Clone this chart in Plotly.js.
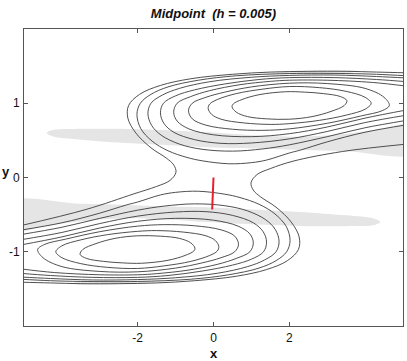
<!DOCTYPE html>
<html>
<head>
<meta charset="utf-8">
<script src="https://cdn.plot.ly/plotly-3.0.1.min.js"></script>
<style>
html, body { margin: 0; padding: 0; background: #fff; }
#graph { width: 407px; height: 361px; }
</style>
</head>
<body>
<div id="graph"></div>
<script>
// ticks
var xTickVals = [-2, 0, 2], xTickText = ["-2", "0", "2"];
var yTickVals = [-1, 0, 1], yTickText = ["-1", "0", "1"];

// outer level curve, upper branch (right edge -> round the upper well -> neck -> left edge)
var Bx = [5.1, 4.3, 3.5, 2.5, 1.5, 0.5, -0.6, -1.4, -1.95, -2.24, -2.26, -2.05, -1.65, -1.24, -1.05, -0.99, -1.15, -1.5, -2.1, -3.36, -5.1];
var By = [1.41, 1.42, 1.43, 1.43, 1.42, 1.39, 1.33, 1.24, 1.12, 0.97, 0.80, 0.60, 0.40, 0.26, 0.17, 0.07, -0.04, -0.12, -0.22, -0.43, -0.65];
// outer level curve, lower branch
var Ax = [-5.1, -4.3, -3.5, -2.5, -1.5, -0.5, 0.6, 1.4, 1.95, 2.24, 2.26, 2.05, 1.65, 1.24, 1.05, 0.99, 1.15, 1.5, 2.1, 3.4, 5.1];
var Ay = [-1.41, -1.42, -1.43, -1.43, -1.42, -1.39, -1.33, -1.24, -1.12, -0.97, -0.80, -0.60, -0.40, -0.26, -0.17, -0.07, 0.04, 0.12, 0.22, 0.35, 0.45];

// upper well
var c1x = [5.1, 4.3, 3.5, 2, 0.6, -0.4, -1.2, -1.65, -1.93, -2.02, -1.92, -1.62, -1.2, -0.7, -0.3, 0.4, 1.0, 1.4, 2, 2.3, 3, 4, 5.1];
var c1y = [1.37, 1.39, 1.40, 1.40, 1.37, 1.31, 1.22, 1.12, 1.0, 0.85, 0.66, 0.49, 0.36, 0.27, 0.225, 0.185, 0.20, 0.235, 0.33, 0.37, 0.48, 0.61, 0.71];
var c2x = [5.1, 4.3, 3.2, 2, 1, -0.1, -0.9, -1.35, -1.65, -1.73, -1.63, -1.38, -0.9, -0.3, 0.5, 1.3, 2, 3, 4, 5.1];
var c2y = [1.34, 1.36, 1.38, 1.375, 1.35, 1.29, 1.20, 1.11, 1.0, 0.86, 0.70, 0.57, 0.45, 0.38, 0.355, 0.385, 0.44, 0.55, 0.67, 0.77];
var c3x = [5.1, 4.3, 3.2, 2, 1.2, 0.3, -0.5, -1.0, -1.32, -1.40, -1.31, -1.05, -0.5, 0.2, 1, 2, 3, 4, 5.1];
var c3y = [1.29, 1.32, 1.345, 1.345, 1.32, 1.26, 1.18, 1.10, 1.0, 0.87, 0.73, 0.61, 0.51, 0.46, 0.465, 0.52, 0.62, 0.74, 0.84];
var c4x = [5.1, 4.2, 3, 2, 1.5, 0.7, -0.1, -0.6, -0.96, -1.05, -0.96, -0.65, 0, 1, 2, 3, 4, 5.1];
var c4y = [1.23, 1.28, 1.31, 1.31, 1.295, 1.25, 1.17, 1.09, 1.0, 0.88, 0.76, 0.655, 0.575, 0.55, 0.59, 0.68, 0.80, 0.91];
var c5x = [2, 1.0, 0.3, -0.2, -0.56, -0.66, -0.56, -0.2, 0.5, 1.3, 2, 3, 3.9, 4.45, 4.64, 4.5, 4.0, 3, 2];
var c5y = [1.27, 1.22, 1.15, 1.08, 1.0, 0.90, 0.79, 0.705, 0.65, 0.635, 0.655, 0.73, 0.83, 0.9, 0.97, 1.08, 1.2, 1.265, 1.27];
var c6x = [2, 1.3, 0.6, 0.1, -0.1, -0.14, -0.05, 0.2, 0.8, 1.5, 2, 2.8, 3.5, 4.0, 4.16, 4.0, 3.5, 2.8, 2];
var c6y = [1.225, 1.19, 1.13, 1.05, 0.99, 0.93, 0.85, 0.785, 0.735, 0.715, 0.725, 0.77, 0.84, 0.92, 1.0, 1.08, 1.16, 1.21, 1.225];
var c7x = [1.9, 1.2, 0.75, 0.52, 0.49, 0.6, 0.9, 1.4, 2, 2.6, 3.1, 3.45, 3.52, 3.35, 2.9, 2.4, 1.9];
var c7y = [1.155, 1.115, 1.05, 0.99, 0.95, 0.88, 0.82, 0.79, 0.785, 0.82, 0.89, 0.97, 1.035, 1.09, 1.13, 1.15, 1.155];

// lower well
var d1x = [-5.1, -4.3, -3.5, -2, -0.6, 0.4, 1.2, 1.65, 1.93, 2.02, 1.92, 1.62, 1.2, 0.7, 0.3, -0.4, -1.0, -1.4, -2, -2.3, -3, -4, -5.1];
var d1y = [-1.37, -1.39, -1.40, -1.40, -1.37, -1.31, -1.22, -1.12, -1.0, -0.85, -0.66, -0.49, -0.36, -0.27, -0.225, -0.185, -0.20, -0.235, -0.33, -0.37, -0.48, -0.61, -0.71];
var d2x = [-5.1, -4.3, -3.2, -2, -1, 0.1, 0.9, 1.35, 1.65, 1.73, 1.63, 1.38, 0.9, 0.3, -0.5, -1.3, -2, -3, -4, -5.1];
var d2y = [-1.34, -1.36, -1.38, -1.375, -1.35, -1.29, -1.20, -1.11, -1.0, -0.86, -0.70, -0.57, -0.45, -0.38, -0.355, -0.385, -0.44, -0.55, -0.67, -0.77];
var d3x = [-5.1, -4.3, -3.2, -2, -1.2, -0.3, 0.5, 1.0, 1.32, 1.40, 1.31, 1.05, 0.5, -0.2, -1, -2, -3, -4, -5.1];
var d3y = [-1.29, -1.32, -1.345, -1.345, -1.32, -1.26, -1.18, -1.10, -1.0, -0.87, -0.73, -0.61, -0.51, -0.46, -0.465, -0.52, -0.62, -0.74, -0.84];
var d4x = [-5.1, -4.2, -3, -2, -1.5, -0.7, 0.1, 0.6, 0.96, 1.05, 0.96, 0.65, 0, -1, -2, -3, -4, -5.1];
var d4y = [-1.23, -1.28, -1.31, -1.31, -1.295, -1.25, -1.17, -1.09, -1.0, -0.88, -0.76, -0.655, -0.575, -0.55, -0.59, -0.68, -0.80, -0.91];
var d5x = [-2, -1.0, -0.3, 0.2, 0.56, 0.66, 0.56, 0.2, -0.5, -1.3, -2, -3, -3.9, -4.45, -4.64, -4.5, -4.0, -3, -2];
var d5y = [-1.27, -1.22, -1.15, -1.08, -1.0, -0.90, -0.79, -0.705, -0.65, -0.635, -0.655, -0.73, -0.83, -0.9, -0.97, -1.08, -1.2, -1.265, -1.27];
var d6x = [-2, -1.3, -0.6, -0.1, 0.1, 0.14, 0.05, -0.2, -0.8, -1.5, -2, -2.8, -3.5, -4.0, -4.16, -4.0, -3.5, -2.8, -2];
var d6y = [-1.225, -1.19, -1.13, -1.05, -0.99, -0.93, -0.85, -0.785, -0.735, -0.715, -0.725, -0.77, -0.84, -0.92, -1.0, -1.08, -1.16, -1.21, -1.225];
var d7x = [-1.9, -1.2, -0.75, -0.52, -0.49, -0.6, -0.9, -1.4, -2, -2.6, -3.1, -3.45, -3.52, -3.35, -2.9, -2.4, -1.9];
var d7y = [-1.155, -1.115, -1.05, -0.99, -0.95, -0.88, -0.82, -0.79, -0.785, -0.82, -0.89, -0.97, -1.035, -1.09, -1.13, -1.15, -1.155];

// grey bands
var ubx = [-4.4, -4.25, -3.5, -2.5, -1, 0.2, 1.2, 2.3, 3.5, 4.4, 5.4, 5.4, 3.5, 2.3, 1.2, 0.2, -1, -2.5, -3.5, -4.25, -4.4];
var uby = [0.60, 0.64, 0.655, 0.655, 0.63, 0.60, 0.565, 0.55, 0.59, 0.65, 0.72, 0.33, 0.355, 0.37, 0.39, 0.40, 0.43, 0.47, 0.51, 0.555, 0.60];
var lbx = [4.4, 4.25, 3.5, 2.5, 1, -0.2, -1.2, -2.3, -3.5, -4.4, -5.4, -5.4, -3.5, -2.3, -1.2, -0.2, 1, 2.5, 3.5, 4.25, 4.4];
var lby = [-0.60, -0.64, -0.655, -0.655, -0.63, -0.60, -0.565, -0.55, -0.59, -0.65, -0.72, -0.33, -0.355, -0.37, -0.39, -0.40, -0.43, -0.47, -0.51, -0.555, -0.60];
var usx = [1.4, 2.0, 2.8, 3.5, 3.8, 3.5, 2.8, 2.0, 1.4];
var usy = [1.405, 1.425, 1.44, 1.44, 1.43, 1.405, 1.39, 1.395, 1.405];
var lsx = [-1.4, -2.0, -2.8, -3.5, -3.8, -3.5, -2.8, -2.0, -1.4];
var lsy = [-1.405, -1.425, -1.44, -1.44, -1.43, -1.405, -1.39, -1.395, -1.405];

// midpoint step
var rx = [0, -0.035], ry = [0, -0.43];

function band(x, y) {
    return { x: x, y: y, type: "scatter", mode: "lines", fill: "toself",
        fillcolor: "#e5e5e5", line: { width: 0, shape: "spline", color: "#e5e5e5" }, hoverinfo: "skip" };
}
function level(x, y) {
    return { x: x, y: y, type: "scatter", mode: "lines",
        line: { color: "#3c3c3c", width: 0.9, shape: "spline", smoothing: 1 }, hoverinfo: "skip" };
}

var data = [band(ubx, uby), band(lbx, lby), band(usx, usy), band(lsx, lsy)];
var curves = [[Bx, By], [Ax, Ay],
    [c1x, c1y], [c2x, c2y], [c3x, c3y], [c4x, c4y], [c5x, c5y], [c6x, c6y], [c7x, c7y],
    [d1x, d1y], [d2x, d2y], [d3x, d3y], [d4x, d4y], [d5x, d5y], [d6x, d6y], [d7x, d7y]];
for (var i = 0; i < curves.length; i++) {
    data.push(level(curves[i][0], curves[i][1]));
}
data.push({ x: rx, y: ry, type: "scatter", mode: "lines",
    line: { color: "#e8202e", width: 2 }, hoverinfo: "skip" });

var axisFont = { family: "Liberation Sans, Arial, sans-serif", size: 12, color: "#111" };
var layout = {
    width: 407,
    height: 361,
    margin: { l: 24, r: 4, t: 29, b: 35 },
    paper_bgcolor: "#fff",
    plot_bgcolor: "#fff",
    showlegend: false,
    title: {
        text: "Midpoint\u00a0 (h = 0.005)",
        font: { family: "Liberation Sans, Arial, sans-serif", size: 13, weight: "bold", style: "italic", color: "#111" },
        xref: "paper", x: 0.5, xanchor: "center",
        yref: "container", y: 0.962, yanchor: "middle"
    },
    xaxis: {
        range: [-5, 5], tickvals: xTickVals, ticktext: xTickText,
        ticks: "inside", ticklen: 4, tickcolor: "#555", ticklabelstandoff: 1,
        showline: true, mirror: "ticks", linecolor: "#555", linewidth: 1,
        showgrid: false, zeroline: false, tickfont: axisFont, fixedrange: true
    },
    yaxis: {
        range: [-2, 2], tickvals: yTickVals, ticktext: yTickText,
        ticks: "inside", ticklen: 4, tickcolor: "#555", ticklabelstandoff: 1,
        showline: true, mirror: "ticks", linecolor: "#555", linewidth: 1,
        showgrid: false, zeroline: false, tickfont: axisFont, fixedrange: true
    },
    annotations: [
        { text: "x", xref: "paper", yref: "paper", x: 0.5, y: -0.094, xanchor: "center", yanchor: "middle",
          showarrow: false, font: { family: "Liberation Sans, Arial, sans-serif", size: 13, weight: "bold", color: "#111" } },
        { text: "y", xref: "paper", yref: "paper", x: -0.048, y: 0.52, xanchor: "center", yanchor: "middle",
          showarrow: false, font: { family: "Liberation Sans, Arial, sans-serif", size: 13, weight: "bold", color: "#111" } }
    ]
};

Plotly.newPlot("graph", data, layout, { staticPlot: true });
</script>
</body>
</html>
